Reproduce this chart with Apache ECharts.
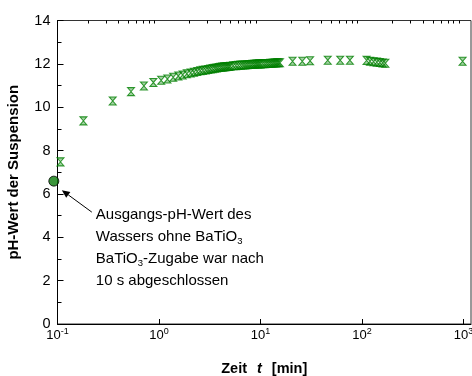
<!DOCTYPE html>
<html>
<head>
<meta charset="utf-8">
<script src="https://cdn.jsdelivr.net/npm/echarts@6/dist/echarts.min.js"></script>
<style>
  html, body { margin: 0; padding: 0; background: #fff; }
  #chart { width: 472px; height: 376px; }
</style>
</head>
<body>
<div id="chart"></div>
<script>
// pH of the water before any BaTiO3 was added
const initialTime = [0.092];
const initialPH = [6.59];

// pH of the suspension after addition, time in minutes
const timeMin = [
  0.107, 0.18, 0.35, 0.53, 0.71, 0.88, 1.05, 1.21,
  1.38, 1.55, 1.71, 1.88, 2.05, 2.21, 2.38, 2.55, 2.71, 2.88, 3.05, 3.21,
  3.38, 3.55, 3.71, 3.88, 4.05, 4.21, 4.38, 4.55, 4.71, 4.88, 5.05,
  5.38, 5.71, 6.05, 6.38, 6.71, 7.05, 7.38, 7.71, 8.05, 8.38, 8.71, 9.05,
  9.38, 9.71, 10.05,
  10.55, 11.05, 11.55, 12.05, 12.55, 13.05, 13.55, 14.05, 14.55, 15.05, 15.55,
  20.7, 25.8, 30.8, 46, 61, 76,
  111, 120, 130, 140, 150, 160, 170,
  980
];
const pHValues = [
  7.48, 9.37, 10.29, 10.72, 10.98, 11.14, 11.24, 11.30,
  11.38, 11.44, 11.49, 11.54, 11.58, 11.61, 11.65, 11.68, 11.70, 11.72, 11.74, 11.76,
  11.78, 11.80, 11.81, 11.83, 11.84, 11.85, 11.86, 11.87, 11.88, 11.88, 11.89,
  11.91, 11.92, 11.93, 11.94, 11.95, 11.95, 11.96, 11.97, 11.97, 11.98, 11.98, 11.99,
  11.99, 12.00, 12.00,
  12.01, 12.01, 12.02, 12.02, 12.03, 12.03, 12.04, 12.04, 12.05, 12.05, 12.05,
  12.12, 12.12, 12.14, 12.17, 12.17, 12.17,
  12.16, 12.12, 12.10, 12.08, 12.06, 12.04, 12.03,
  12.12
];

// axis ticks
const xMajorTicks = [0.1, 1, 10, 100, 1000];
const xMinorTicks = [
  0.2, 0.3, 0.4, 0.5, 0.6, 0.7, 0.8, 0.9,
  2, 3, 4, 5, 6, 7, 8, 9,
  20, 30, 40, 50, 60, 70, 80, 90,
  200, 300, 400, 500, 600, 700, 800, 900
];
const yTicks = [0, 2, 4, 6, 8, 10, 12, 14];

const FONT = '"Liberation Sans", Arial, sans-serif';
const GREEN = '#008000';
const HOURGLASS = 'path://M0,0L8,0L0,9L8,9Z';

const chart = echarts.init(document.getElementById('chart'), null, { renderer: 'canvas' });

const pairs = (xs, ys) => xs.map((x, i) => [x, ys[i]]);

chart.setOption({
  animation: false,
  backgroundColor: '#fff',
  textStyle: { fontFamily: FONT },
  grid: {
    left: 57.5, right: 1, top: 20.5, bottom: 52,
    outerBoundsMode: 'none', containLabel: false,
    show: true, borderColor: '#333', borderWidth: 1,
    backgroundColor: 'transparent'
  },
  xAxis: [
    {
      type: 'log', logBase: 10, min: 0.1, max: 1186,
      name: '{b|Zeit}   {i|t}   {b|[min]}',
      nameLocation: 'middle', nameGap: 37,
      nameTextStyle: {
        rich: {
          b: { fontFamily: FONT, fontWeight: 'bold', fontSize: 14.5, color: '#000' },
          i: { fontFamily: FONT, fontWeight: 'bold', fontStyle: 'italic', fontSize: 14.5, color: '#000' }
        }
      },
      axisLine: { show: true, lineStyle: { color: '#000', width: 1 } },
      axisTick: { show: true, inside: true, length: 5, customValues: xMajorTicks, lineStyle: { color: '#000' } },
      axisLabel: {
        show: true, margin: 3, customValues: xMajorTicks,
        formatter: function (v) {
          const e = Math.round(Math.log10(v));
          return '{b|10}{s|' + e + '}';
        },
        rich: {
          b: { fontFamily: FONT, fontSize: 13, color: '#000' },
          s: { fontFamily: FONT, fontSize: 9, color: '#000', padding: [0, 0, 8, 0] }
        }
      },
      splitLine: { show: false }
    },
    {
      type: 'log', logBase: 10, min: 0.1, max: 1186,
      axisLine: { show: false },
      axisTick: { show: true, inside: true, length: 3, customValues: xMinorTicks, lineStyle: { color: '#000' } },
      axisLabel: { show: false },
      splitLine: { show: false }
    }
  ],
  yAxis: {
    type: 'value', min: 0, max: 14, interval: 2,
    name: 'pH-Wert der Suspension',
    nameLocation: 'middle', nameGap: 36, nameRotate: 90,
    nameTextStyle: { fontFamily: FONT, fontWeight: 'bold', fontSize: 15, color: '#000' },
    axisLine: { show: true, lineStyle: { color: '#000', width: 1 } },
    axisTick: { show: true, inside: true, length: 6, lineStyle: { color: '#000' } },
    minorTick: { show: true, splitNumber: 2, length: 4, lineStyle: { color: '#000' } },
    axisLabel: { show: true, margin: 7, fontFamily: FONT, fontSize: 14.5, color: '#000', customValues: yTicks },
    splitLine: { show: false }
  },
  series: [
    {
      type: 'scatter', xAxisIndex: 0, clip: false,
      data: pairs(timeMin, pHValues),
      symbol: HOURGLASS, symbolSize: [7, 8],
      itemStyle: { color: 'rgba(0,128,0,0.45)', borderColor: GREEN, borderWidth: 1 },
      z: 3
    },
    {
      type: 'scatter', xAxisIndex: 0, clip: false,
      data: pairs(initialTime, initialPH),
      symbol: 'circle', symbolSize: 10,
      itemStyle: { color: '#0a7a0a', borderColor: '#000', borderWidth: 1 },
      z: 4
    }
  ]
});

// annotation next to the initial value, anchored on that point
const p0 = chart.convertToPixel({ xAxisIndex: 0, yAxisIndex: 0 }, [initialTime[0], initialPH[0]]);
const tail = [p0[0] + 38, p0[1] + 31];
const head = [p0[0] + 8, p0[1] + 9];
const ang = Math.atan2(head[1] - tail[1], head[0] - tail[0]);
const ah = 8, aw = 3.5;
const base = [head[0] - ah * Math.cos(ang), head[1] - ah * Math.sin(ang)];
const arrowHead = [
  head,
  [base[0] + aw * Math.sin(ang), base[1] - aw * Math.cos(ang)],
  [base[0] - aw * Math.sin(ang), base[1] + aw * Math.cos(ang)]
];
const noteRich = {
  n: { fontFamily: FONT, fontSize: 15, color: '#000' },
  sub: { fontFamily: FONT, fontSize: 9.5, color: '#000', padding: [9, 0, 0, 0] }
};
const noteLines = [
  '{n|Ausgangs-pH-Wert des}',
  '{n|Wassers ohne BaTiO}{sub|3}',
  '{n|BaTiO}{sub|3}{n|-Zugabe war nach}',
  '{n|10 s abgeschlossen}'
];
chart.setOption({
  graphic: [
    {
      type: 'line', silent: true,
      shape: { x1: tail[0], y1: tail[1], x2: base[0], y2: base[1] },
      style: { stroke: '#000', lineWidth: 1 }
    },
    {
      type: 'polygon', silent: true,
      shape: { points: arrowHead },
      style: { fill: '#000' }
    }
  ].concat(noteLines.map((t, i) => ({
    type: 'text', silent: true,
    x: p0[0] + 42, y: p0[1] + 34 + i * 21.8,
    style: { text: t, rich: noteRich, verticalAlign: 'middle', align: 'left' }
  })))
});
</script>
</body>
</html>
